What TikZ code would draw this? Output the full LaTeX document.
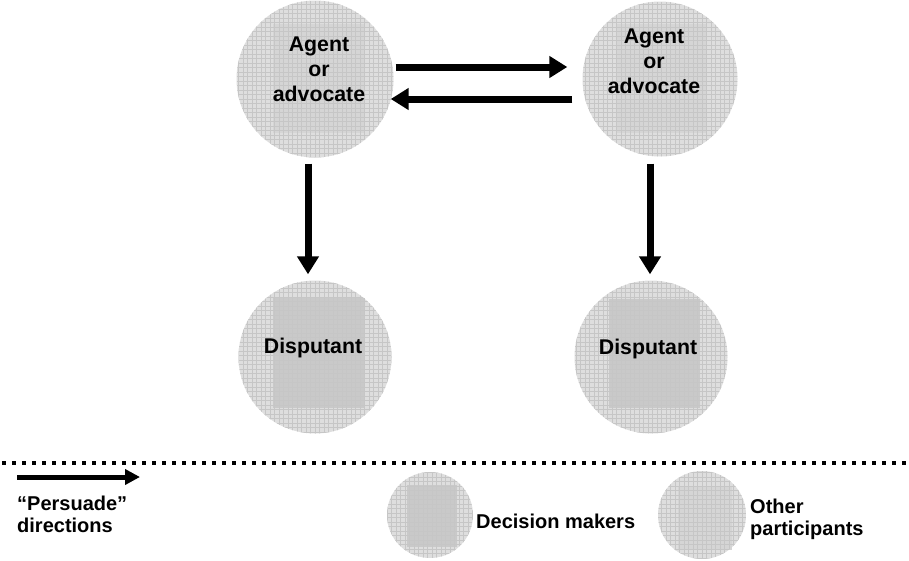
\documentclass[tikz,border=0pt]{standalone}
\usepackage{fontspec}
\setmainfont{Liberation Sans}
\usetikzlibrary{arrows.meta}
\tikzset{
  disc/.style={circle, inner sep=0pt, fill=gray!26, draw=none},
  gridline/.style={draw=gray!45, line width=0.45pt},
  agentrect/.style={fill=gray!33},
  dispurect/.style={fill=gray!42},
  lbl/.style={font=\fontsize{21.3}{25}\selectfont\bfseries, align=center, inner sep=0pt},
  leg/.style={font=\fontsize{20}{23}\selectfont\bfseries, align=left, inner sep=0pt, anchor=base west},
  persuade/.style={line width=7pt, -{Triangle[length=18pt, width=21pt]}},
  legarrow/.style={line width=5pt, -{Triangle[length=15pt, width=15pt]}},
  sep/.style={line width=4pt, dash pattern=on 4pt off 6pt}
}
\newcommand{\gridfill}[2]{%
  \begin{scope}
    \clip (#1) circle (#2);
    \draw[gridline, step=4.5pt] ([shift={(-#2,-#2)}]#1) grid ([shift={(#2,#2)}]#1);
  \end{scope}}
\begin{document}
\begin{tikzpicture}[x=1pt, y=-1pt]
\useasboundingbox (0,0) rectangle (909,560);

% top-left agent
\node[disc, minimum size=157pt] (a1) at (315,79) {};
\fill[agentrect] (273,24) rectangle (365,133);
\gridfill{315,79}{78.5}
% top-right agent
\node[disc, minimum size=155pt] (a2) at (660,79) {};
\fill[agentrect] (616,24) rectangle (707,133);
\gridfill{660,79}{77.5}
% bottom-left disputant
\node[disc, minimum size=153pt] (b1) at (315,357) {};
\fill[dispurect] (273,298) rectangle (365,408);
\gridfill{315,357}{76.5}
% bottom-right disputant
\node[disc, minimum size=153pt] (b2) at (651,357) {};
\fill[dispurect] (609,299) rectangle (700,408);
\gridfill{651,357}{76.5}

\node[lbl] (t1) at (319,69) {Agent\\or\\advocate};
\node[lbl] (t2) at (654,61) {Agent\\or\\advocate};
\node[lbl] (t3) at (313,348) {Disputant};
\node[lbl] (t4) at (648,349) {Disputant};

% persuade arrows
\draw[persuade, shorten >=15pt, shorten <=2pt] (a1.east |- 0,67) -- (a2.west |- 0,67);
\draw[persuade, shorten <=10pt, shorten >=-3pt] (a2.west |- 0,99) -- (a1.east |- 0,99);
\draw[persuade, shorten <=6pt, shorten >=6pt] (a1.south -| 308,0) -- (b1.north -| 308,0);
\draw[persuade, shorten <=7pt, shorten >=6pt] (a2.south -| 650,0) -- (b2.north -| 650,0);

% separator
\coordinate (s1) at (2,463);
\coordinate (s2) at (909,463);
\draw[sep] (s1) -- (s2);

% legend
\coordinate (la1) at (17,477);
\coordinate (la2) at (140,477);
\draw[legarrow] (la1) -- (la2);
\node[leg] (lp) at (17,510) {“Persuade”};
\node[leg] (ld) at (17,532) {directions};

\node[disc, minimum size=86pt] (ldm) at (430,515) {};
\fill[dispurect] (407,485) rectangle (457,547);
\gridfill{430,515}{43}
\node[leg] (ldmt) at (476,528) {Decision makers};

\node[disc, minimum size=88pt] (lop) at (702,515) {};
\fill[agentrect] (678,487) rectangle (732,550);
\gridfill{702,515}{44}
\node[leg] (lopt1) at (750,513) {Other};
\node[leg] (lopt2) at (750,535) {participants};
\end{tikzpicture}
\end{document}
